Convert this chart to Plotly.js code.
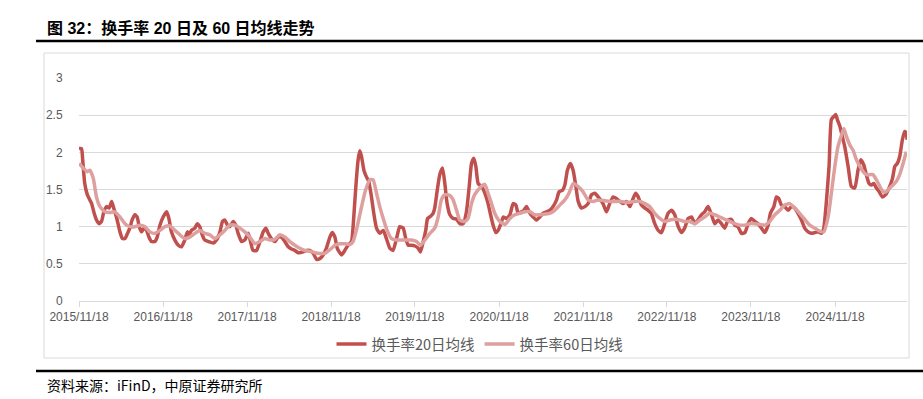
<!DOCTYPE html>
<html><head><meta charset="utf-8">
<script src="https://cdn.plot.ly/plotly-3.0.1.min.js"></script>
<style>html,body{margin:0;padding:0;background:#fff}#chart{width:923px;height:399px}</style>
</head><body><div id="chart"></div><script>
// Time of each reading, in years after 2015/11/18
const startDate = '2015-11-18';

const yearsMA20 = [
0,0.032,0.044,0.071,0.099,0.131,0.151,0.183,0.210,0.242,
0.270,0.298,0.329,0.361,0.389,0.409,0.429,0.456,0.488,0.520,
0.548,0.579,0.607,0.635,0.667,0.694,0.718,0.746,0.774,0.806,
0.833,0.865,0.905,0.933,0.964,1.004,1.044,1.071,1.103,1.143,
1.183,1.222,1.262,1.290,1.313,1.341,1.381,1.409,1.440,1.468,
1.500,1.540,1.599,1.639,1.679,1.710,1.738,1.770,1.798,1.837,
1.869,1.897,1.937,1.976,2.016,2.044,2.075,2.115,2.155,2.194,
2.226,2.254,2.294,2.333,2.373,2.413,2.452,2.492,2.532,2.571,
2.611,
2.671,2.710,2.750,2.790,2.829,2.869,2.909,2.948,2.988,3.016,
3.048,3.075,3.127,3.167,3.206,3.246,3.274,3.298,3.325,3.345,
3.365,3.393,3.425,3.452,3.484,3.512,3.544,3.583,3.623,3.663,
3.702,3.742,3.782,3.821,3.861,3.893,3.921,3.960,4.000,4.040,
4.067,4.099,4.131,4.151,4.187,4.218,4.238,4.266,4.298,4.329,
4.357,4.385,4.417,4.456,4.496,4.536,4.575,4.615,4.647,4.675,
4.702,4.726,4.754,4.794,4.833,4.873,4.901,4.933,4.964,4.992,
5.024,5.052,5.091,5.131,5.171,5.202,5.230,5.270,5.298,5.329,
5.369,5.409,5.448,5.488,5.528,5.567,5.607,5.647,5.687,5.718,
5.758,5.786,5.817,5.853,5.885,5.917,5.944,5.984,6.024,6.063,
6.103,6.143,6.183,
6.242,6.282,6.321,6.361,6.401,6.440,6.480,6.520,6.560,6.599,
6.631,6.659,6.698,6.738,6.778,6.817,6.857,6.897,6.937,6.976,
7.016,7.056,7.095,7.135,7.175,7.214,7.254,7.294,7.333,7.373,
7.413,7.452,7.492,7.532,7.571,7.611,7.651,7.690,7.730,7.770,
7.810,7.849,7.889,7.929,7.968,8.008,8.048,8.087,8.127,8.167,
8.206,8.234,8.274,8.306,8.333,8.365,8.405,8.444,8.484,8.524,
8.563,8.603,8.643,8.683,8.722,8.762,8.802,8.841,8.869,8.901,
8.933,8.960,8.988,9.012,9.032,9.060,9.091,9.119,9.159,9.198,
9.238,9.278,9.310,9.345,9.377,9.409,9.437,9.464,9.496,9.528,
9.567,9.607,9.647,9.687,9.714,9.746,9.774,9.806,9.833,9.853,
9.861];
const turnoverMA20 = [
2.05,2.05,1.9,1.58,1.43,1.36,1.31,1.18,1.09,1.04,
1.07,1.2,1.27,1.25,1.34,1.27,1.2,1.09,0.93,0.84,
0.84,0.91,0.98,1.09,1.16,1.13,1.0,0.93,0.98,0.95,
0.86,0.8,0.8,0.86,1.02,1.13,1.2,1.11,0.93,0.82,
0.75,0.73,0.82,0.93,0.89,0.95,0.98,1.04,1.0,0.89,
0.82,0.8,0.78,0.82,0.93,1.07,1.09,1.02,1.0,1.07,
1.02,0.91,0.8,0.82,0.91,0.8,0.68,0.68,0.8,0.93,
0.98,0.91,0.84,0.8,0.86,0.86,0.8,0.73,0.7,0.68,
0.65,
0.66,0.68,0.68,0.64,0.56,0.57,0.62,0.71,0.86,0.92,
0.86,0.71,0.62,0.68,0.75,0.8,1.13,1.54,1.9,2.02,
1.94,1.76,1.67,1.61,1.4,1.18,0.98,0.91,0.95,0.84,
0.71,0.68,0.84,1.0,0.98,0.84,0.75,0.75,0.74,0.71,
0.66,0.8,0.95,1.11,1.14,1.18,1.25,1.49,1.7,1.79,
1.58,1.31,1.16,1.11,1.1,1.04,1.04,1.2,1.54,1.85,
1.92,1.81,1.58,1.54,1.45,1.31,1.16,1.02,0.92,0.95,
1.04,1.13,1.11,1.16,1.31,1.29,1.18,1.2,1.22,1.27,
1.18,1.13,1.09,1.13,1.18,1.2,1.22,1.27,1.36,1.47,
1.49,1.56,1.76,1.85,1.76,1.54,1.34,1.25,1.27,1.31,
1.43,1.45,1.4,
1.31,1.2,1.31,1.4,1.38,1.34,1.31,1.34,1.27,1.38,
1.45,1.4,1.29,1.25,1.22,1.18,1.04,0.95,0.92,1.04,
1.18,1.22,1.16,1.0,0.92,0.98,1.11,1.13,1.04,1.09,
1.16,1.2,1.27,1.16,1.04,1.09,1.04,0.98,1.09,1.1,
1.02,1.0,0.91,0.92,1.04,1.11,1.07,1.04,0.98,0.92,
1.02,1.18,1.27,1.4,1.38,1.29,1.27,1.22,1.27,1.25,
1.18,1.09,0.98,0.93,0.91,0.92,0.93,0.91,0.98,1.36,
1.81,2.44,2.48,2.51,2.44,2.35,2.21,2.08,1.81,1.54,
1.52,1.76,1.9,1.83,1.7,1.58,1.56,1.58,1.52,1.47,
1.4,1.43,1.52,1.65,1.81,1.85,1.94,2.17,2.28,2.26,
2.17];

const yearsMA60 = [
0,0.052,0.099,0.131,0.171,0.210,0.250,0.310,0.369,0.429,
0.488,0.548,0.607,0.667,0.726,0.786,0.845,0.905,0.964,1.024,
1.083,1.143,1.202,1.262,1.321,1.381,1.440,1.500,1.560,1.619,
1.679,1.738,1.798,1.857,1.917,1.976,2.036,2.095,2.155,2.214,
2.274,2.333,2.393,2.452,2.512,2.571,2.631,
2.690,2.750,2.810,2.869,2.929,2.988,3.048,3.107,3.167,3.226,
3.266,3.313,3.365,3.413,3.464,3.504,3.544,3.583,3.623,3.671,
3.722,3.782,3.841,3.901,3.960,4.020,4.067,4.119,4.179,4.238,
4.278,4.317,4.357,4.417,4.456,4.496,4.536,4.595,4.635,4.675,
4.714,4.774,4.833,4.873,4.913,4.952,5.012,5.071,5.131,5.190,
5.250,5.310,5.369,5.429,5.488,5.548,5.607,5.667,5.726,5.786,
5.837,5.885,5.944,6.004,6.063,6.123,6.183,
6.262,6.321,6.381,6.440,6.500,6.560,6.619,6.679,6.738,6.798,
6.857,6.917,6.976,7.036,7.095,7.155,7.214,7.274,7.333,7.393,
7.452,7.512,7.571,7.631,7.690,7.750,7.810,7.869,7.929,7.988,
8.048,8.107,8.167,8.226,8.286,8.345,8.405,8.464,8.524,8.583,
8.643,8.702,8.762,8.821,8.869,8.921,8.960,9.000,9.040,9.079,
9.107,9.139,9.179,9.218,9.258,9.298,9.337,9.377,9.417,9.456,
9.496,9.536,9.575,9.615,9.655,9.694,9.734,9.774,9.813,9.853];
const turnoverMA60 = [
1.85,1.79,1.74,1.76,1.65,1.4,1.27,1.2,1.19,1.2,
1.13,1.04,1.0,1.0,1.02,1.0,0.93,0.91,0.95,1.0,
1.01,0.95,0.89,0.84,0.86,0.91,0.95,0.91,0.89,0.84,
0.89,0.95,1.02,1.02,0.98,0.93,0.86,0.77,0.8,0.84,
0.82,0.83,0.89,0.86,0.8,0.75,0.71,
0.68,0.67,0.65,0.64,0.64,0.69,0.75,0.77,0.77,0.76,
0.8,1.0,1.27,1.49,1.63,1.63,1.45,1.27,1.11,0.95,
0.84,0.82,0.82,0.82,0.82,0.8,0.75,0.82,0.91,0.98,
1.13,1.36,1.43,1.42,1.36,1.22,1.09,1.07,1.11,1.31,
1.43,1.52,1.57,1.45,1.31,1.18,1.07,1.03,1.11,1.16,
1.18,1.2,1.2,1.16,1.16,1.17,1.18,1.22,1.29,1.36,
1.45,1.58,1.54,1.47,1.36,1.34,1.36,
1.35,1.34,1.34,1.34,1.33,1.33,1.34,1.34,1.31,1.27,
1.18,1.11,1.07,1.09,1.1,1.09,1.07,1.07,1.04,1.09,
1.13,1.18,1.16,1.13,1.1,1.07,1.04,1.02,1.02,1.04,
1.04,1.03,1.02,1.07,1.16,1.22,1.29,1.31,1.25,1.18,
1.1,1.02,0.98,0.94,0.93,1.13,1.45,1.81,2.08,2.23,
2.32,2.21,2.1,2.03,1.9,1.81,1.74,1.7,1.7,1.7,
1.63,1.54,1.47,1.47,1.52,1.56,1.61,1.7,1.85,2.01];

const seriesNames = ['换手率20日均线', '换手率60日均线'];
const seriesColors = ['#C0504D', '#DDA09F'];
const titleText = '图 32：换手率 20 日及 60 日均线走势';
const sourceText = '资料来源：iFinD，中原证券研究所';

const startMs = Date.UTC(2015, 10, 18);
function toDate(t) {
  return new Date(startMs + t * 365.25 * 86400000).toISOString().slice(0, 10);
}
const dates20 = yearsMA20.map(toDate);
const dates60 = yearsMA60.map(toDate);
const endDate = toDate(Math.max(yearsMA20[yearsMA20.length - 1], yearsMA60[yearsMA60.length - 1]));

// layout geometry helpers (pixel -> paper)
const W = 923, H = 399, ML = 79, MR = 16, MT = 78, MB = 98;
const PW = W - ML - MR, PH = H - MT - MB;
const px = x => (x - ML) / PW;
const py = y => (H - MB - y) / PH;

const traces = [
  {x: dates20, y: turnoverMA20, name: seriesNames[0], type: 'scatter', mode: 'lines',
   line: {color: seriesColors[0], width: 3.5, shape: 'spline', smoothing: 0.5}},
  {x: dates60, y: turnoverMA60, name: seriesNames[1], type: 'scatter', mode: 'lines',
   line: {color: seriesColors[1], width: 3.5, shape: 'spline', smoothing: 0.5}}
];

const layout = {
  width: W, height: H,
  margin: {l: ML, r: MR, t: MT, b: MB, pad: 0},
  paper_bgcolor: '#fff', plot_bgcolor: '#fff',
  showlegend: true,
  legend: {orientation: 'h', x: px(480), xanchor: 'center', y: py(344), yanchor: 'middle',
           font: {family: 'Noto Sans CJK SC, Liberation Sans', size: 14.5, color: '#595959'},
           itemwidth: 30, bgcolor: 'rgba(0,0,0,0)'},
  xaxis: {type: 'date', range: [startDate, endDate], tick0: startDate, dtick: 'M12',
          tickformat: '%Y/%m/%d', showgrid: false, zeroline: false,
          showline: true, linecolor: '#d9d9d9', linewidth: 1,
          ticks: 'outside', ticklen: 5, tickcolor: '#d9d9d9',
          tickfont: {family: 'Liberation Sans, Arial', size: 12, color: '#595959'},
          fixedrange: true},
  yaxis: {range: [0, 3], tick0: 0, dtick: 0.5, showgrid: true, gridcolor: '#d9d9d9', gridwidth: 1,
          zeroline: false, showline: false, ticks: 'outside', ticklen: 13, tickcolor: 'rgba(0,0,0,0)',
          tickfont: {family: 'Liberation Sans, Arial', size: 12, color: '#595959'},
          fixedrange: true},
  shapes: [
    {type: 'rect', xref: 'paper', yref: 'paper', x0: px(44), x1: px(909), y0: py(358), y1: py(53),
     line: {color: '#d9d9d9', width: 1}, fillcolor: 'rgba(0,0,0,0)', layer: 'below'},
    {type: 'line', xref: 'paper', yref: 'paper', x0: px(36), x1: px(923), y0: py(41), y1: py(41),
     line: {color: '#000', width: 2.5}},
    {type: 'line', xref: 'paper', yref: 'paper', x0: px(36), x1: px(923), y0: py(371), y1: py(371),
     line: {color: '#000', width: 2.5}}
  ],
  annotations: [
    {text: '<b>' + titleText + '</b>', xref: 'paper', yref: 'paper', x: px(45), y: py(28),
     xanchor: 'left', yanchor: 'middle', showarrow: false,
     font: {family: 'Liberation Sans, Noto Sans CJK SC', size: 16, color: '#000'}},
    {text: sourceText, xref: 'paper', yref: 'paper', x: px(45), y: py(385),
     xanchor: 'left', yanchor: 'middle', showarrow: false,
     font: {family: 'Noto Sans CJK SC, Liberation Sans', size: 14, color: '#000'}}
  ]
};

Plotly.newPlot('chart', traces, layout, {staticPlot: true, displayModeBar: false});
</script></body></html>
